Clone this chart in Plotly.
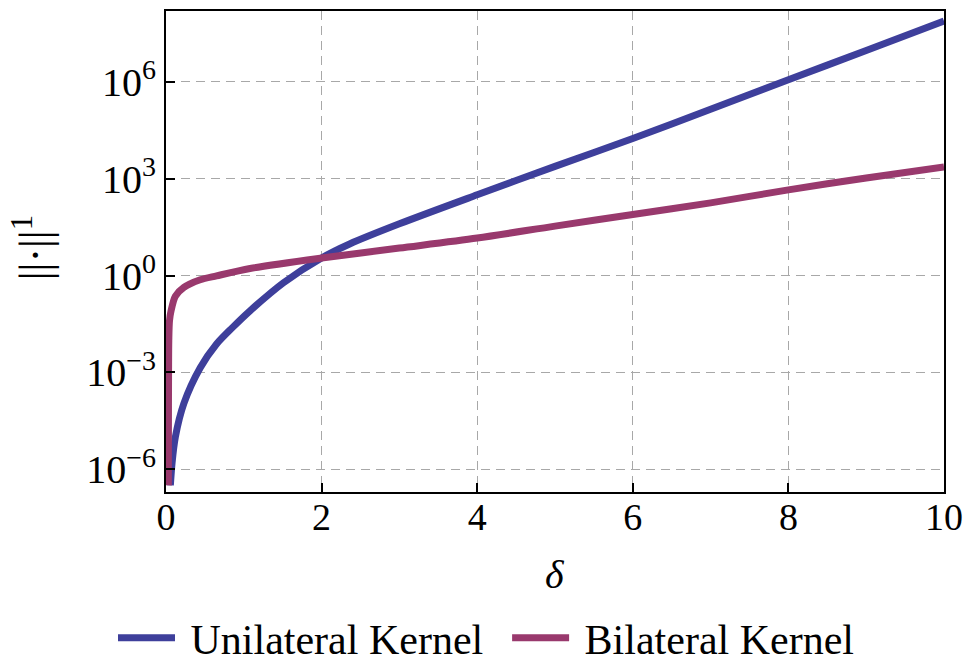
import plotly.graph_objects as go

# Data
delta_uni = [0.056, 0.078, 0.12, 0.23, 0.44, 0.65, 0.85, 1.08, 1.51, 2.0, 2.36, 3.0, 4.0, 5.0, 6.0, 7.0, 8.0, 9.0, 10.0]
norm_uni = [3.2e-7, 1.6e-6, 1.0e-5, 1.1e-4, 1.4e-3, 7.6e-3, 2.4e-2, 8.1e-2, 0.60, 3.5, 9.5, 40, 316, 2400, 1.74e4, 1.41e5, 1.15e6, 9.3e6, 7.6e7]

delta_bi = [0.030, 0.031, 0.033, 0.036, 0.045, 0.065, 0.12, 0.23, 0.44, 0.65, 1.08, 2.0, 3.0, 4.0, 5.0, 6.0, 7.0, 8.0, 9.0, 10.0]
norm_bi = [3.2e-7, 1e-5, 1e-3, 1.0e-2, 4.0e-2, 8.1e-2, 0.23, 0.43, 0.74, 0.98, 1.66, 3.5, 7.1, 14.5, 34, 78, 178, 450, 1050, 2290]

y_tickvals = [1e-6, 1e-3, 1, 1e3, 1e6]
y_ticktext = ["10<sup>\u22126</sup>", "10<sup>\u22123</sup>", "10<sup>0</sup>", "10<sup>3</sup>", "10<sup>6</sup>"]
x_tickvals = [0, 2, 4, 6, 8, 10]
x_ticktext = ["0", "2", "4", "6", "8", "10"]

BLUE = "#3E3F9B"
PURPLE = "#99396D"
FONT = "Liberation Serif"

fig = go.Figure()
fig.add_trace(go.Scatter(x=delta_uni, y=norm_uni, mode="lines", name="\u00a0Unilateral Kernel\u00a0\u2009",
                         line=dict(color=BLUE, width=7, shape="spline", smoothing=0.8)))
fig.add_trace(go.Scatter(x=delta_bi, y=norm_bi, mode="lines", name="\u00a0Bilateral Kernel",
                         line=dict(color=PURPLE, width=7, shape="spline", smoothing=0.8)))

fig.update_layout(
    width=972, height=666,
    margin=dict(l=166, r=25, t=9, b=174),
    paper_bgcolor="white", plot_bgcolor="white",
    font=dict(family=FONT, size=38, color="black"),
    showlegend=True,
    legend=dict(orientation="h", xref="container", yref="container",
                x=0.5, xanchor="center", y=0.042, yanchor="middle",
                font=dict(family=FONT, size=42, color="black"),
                itemwidth=57, bgcolor="rgba(0,0,0,0)"),
    xaxis=dict(range=[0, 10], tickmode="array", tickvals=x_tickvals, ticktext=x_ticktext,
               ticks="inside", ticklen=9, tickwidth=2, tickcolor="black",
               showline=True, linecolor="black", linewidth=2, mirror=True,
               showgrid=True, gridcolor="#a8a8a8", gridwidth=1.2, griddash="9px,6px",
               zeroline=False, tickfont=dict(size=38), ticklabelstandoff=-10),
    yaxis=dict(type="log", range=[-6.70, 8.19], tickmode="array", tickvals=y_tickvals, ticktext=y_ticktext,
               ticks="inside", ticklen=9, tickwidth=2, tickcolor="black",
               showline=True, linecolor="black", linewidth=2, mirror=True,
               showgrid=True, gridcolor="#a8a8a8", gridwidth=1.2, griddash="9px,6px",
               zeroline=False, tickfont=dict(size=40)),
    annotations=[
        dict(text="||\u00b7||<sup>1</sup>", xref="paper", yref="paper", x=-0.1715, y=0.508,
             xanchor="center", yanchor="middle", textangle=-90, showarrow=False,
             font=dict(family=FONT, size=44, color="black")),
        dict(text="<i>\u03b4</i>", xref="paper", yref="paper", x=0.5, y=-0.1718,
             xanchor="center", yanchor="middle", showarrow=False,
             font=dict(family=FONT, size=40, color="black")),
    ],
)

fig.write_html("out.html", config={"displayModeBar": False},
               post_script="document.body.style.margin='0';document.body.style.padding='0';document.body.style.overflow='hidden';")
